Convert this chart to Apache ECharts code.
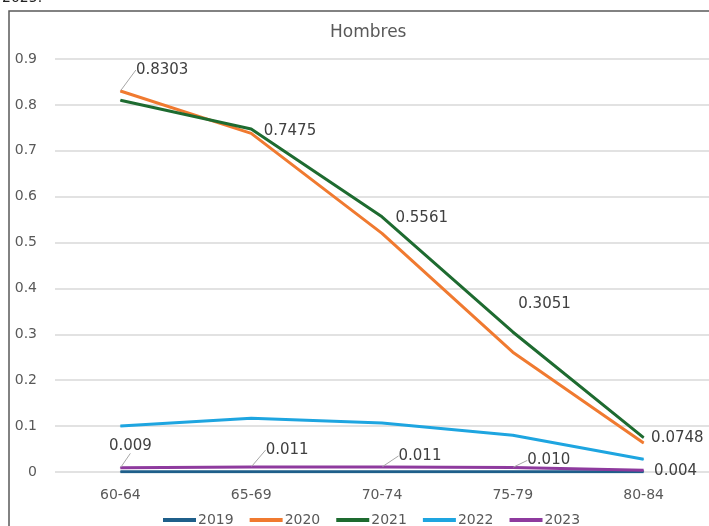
<!DOCTYPE html>
<html>
<head>
<meta charset="utf-8">
<script src="https://cdn.jsdelivr.net/npm/echarts@6/dist/echarts.min.js"></script>
<style>
html,body{margin:0;padding:0;background:#fff;}
#c{width:709px;height:526px;}
</style>
</head>
<body>
<div id="c"></div>
<script>
const categories = ['60-64', '65-69', '70-74', '75-79', '80-84'];
const seriesNames = ['2019', '2020', '2021', '2022', '2023'];
const v2019 = [0.0005, 0.0005, 0.0005, 0.0005, 0.0005];
const v2020 = [0.8303, 0.738, 0.520, 0.261, 0.063];
const v2021 = [0.810, 0.7475, 0.5561, 0.3051, 0.0748];
const v2022 = [0.100, 0.117, 0.107, 0.080, 0.028];
const v2023 = [0.009, 0.011, 0.011, 0.010, 0.004];
const yTicks = [0, 0.1, 0.2, 0.3, 0.4, 0.5, 0.6, 0.7, 0.8, 0.9];

// which points carry a data label, and the label text
const labels2020 = ['0.8303', null, null, null, null];
const labels2021 = [null, '0.7475', '0.5561', '0.3051', '0.0748'];
const labels2023 = ['0.009', '0.011', '0.011', '0.010', '0.004'];

// label nudges and leader-line flags (style, not data)
const nudges = {
  '2020': [[10, -21], null, null, null, null],
  '2021': [null, [7, 2], [8, 1], [0, -28], [2, 0]],
  '2023': [[-17, -22], [9, -17], [11, -11], [9, -7], [5, 1]]
};
const leaders = {
  '2020': [true, false, false, false, false],
  '2021': [false, false, false, false, false],
  '2023': [true, true, true, true, false]
};

const colors = ['#1F5F8A', '#F07A30', '#1E6B30', '#1EA5E0', '#8E3A9E'];
const values = [v2019, v2020, v2021, v2022, v2023];
const labelTexts = [null, labels2020, labels2021, null, labels2023];

function buildData(name, vals, texts) {
  return vals.map((v, i) => {
    if (!texts || !texts[i]) return v;
    const t = texts[i];
    return {
      value: v,
      label: {show: true, position: 'right', distance: 5, formatter: () => t},
      labelLine: {show: !!(leaders[name] && leaders[name][i]),
        lineStyle: {color: '#A6A6A6', width: 1}}
    };
  });
}

const series = seriesNames.map((name, si) => ({
  name: name,
  type: 'line',
  data: buildData(name, values[si], labelTexts[si]),
  symbol: 'circle',
  symbolSize: 1,
  showSymbol: true,
  itemStyle: {color: colors[si]},
  lineStyle: {color: colors[si], width: 3},
  label: {color: '#404040', fontSize: 15, fontFamily: 'DejaVu Sans'},
  labelLine: {show: false},
  labelLayout: function (p) {
    const n = nudges[name];
    if (!n || !n[p.dataIndex]) return {};
    return {dx: n[p.dataIndex][0], dy: n[p.dataIndex][1]};
  },
  emphasis: {disabled: true},
  animation: false
}));

const chart = echarts.init(document.getElementById('c'));
chart.setOption({
  animation: false,
  color: colors,
  title: {
    text: 'Hombres', left: 325, top: 19,
    textStyle: {color: '#595959', fontSize: 17, fontWeight: 'normal', fontFamily: 'DejaVu Sans'}
  },
  grid: {left: 55, right: -1, top: 59, bottom: 54},
  xAxis: {
    type: 'category', data: categories, boundaryGap: true,
    axisLine: {show: false}, axisTick: {show: false},
    axisLabel: {color: '#595959', fontSize: 14, margin: 16, fontFamily: 'DejaVu Sans'}
  },
  yAxis: {
    type: 'value', min: yTicks[0], max: yTicks[yTicks.length - 1], interval: 0.1,
    axisLabel: {color: '#595959', fontSize: 14, margin: 18, fontFamily: 'DejaVu Sans',
      formatter: v => String(Math.round(v * 10) / 10)},
    splitLine: {lineStyle: {color: '#D9D9D9', width: 1.5}}
  },
  legend: {
    bottom: -6, left: 158, itemWidth: 33, itemHeight: 4, itemGap: 16,
    icon: 'rect',
    textStyle: {color: '#595959', fontSize: 14, fontFamily: 'DejaVu Sans', padding: [0, 0, 0, -3]},
    data: seriesNames
  },
  graphic: [
    {type: 'rect', shape: {x: 9, y: 11, width: 720, height: 540},
     style: {fill: 'none', stroke: '#595959', lineWidth: 1.5}, silent: true, z: -1},
    {type: 'text', left: 2, top: -9, style: {text: '2025.', fill: '#222', font: '14px DejaVu Sans'}}
  ],
  series: series
});
</script>
</body>
</html>
